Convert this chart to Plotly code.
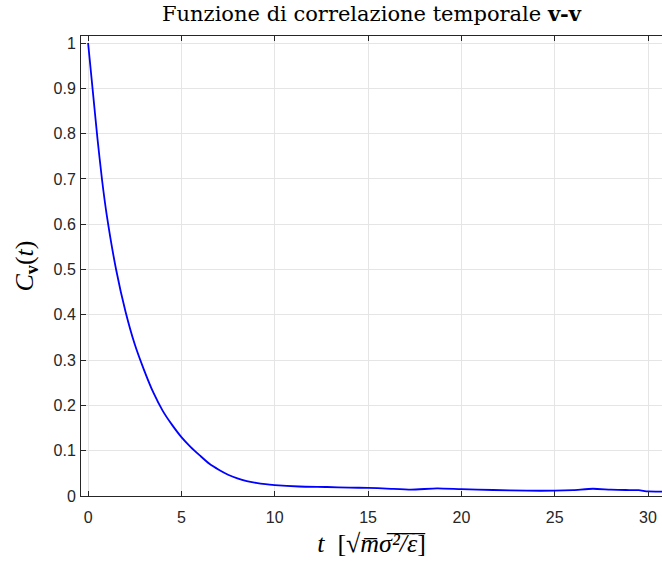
import plotly.graph_objects as go

# Time (reduced units) and velocity autocorrelation values
t_vals = [0.0, 0.25, 0.5, 0.75, 1.0, 1.5, 2.0, 2.5, 3.0, 3.5, 4.0, 4.5, 5.0, 5.5,
          6.0, 6.5, 7.0, 7.5, 8.0, 8.5, 9.0, 9.5, 10.0, 11.3, 12.8, 14.0, 15.0, 16.0,
          17.3, 18.7, 20.0, 21.7, 23.5, 25.0, 26.0, 27.05, 28.0, 28.8, 29.5, 30.0, 30.8]
c_vals = [1.0, 0.895, 0.79, 0.697, 0.62, 0.50, 0.408, 0.335, 0.278, 0.228, 0.188,
          0.157, 0.13, 0.108, 0.089, 0.071, 0.058, 0.047, 0.039, 0.033, 0.029, 0.026,
          0.024, 0.021, 0.0199, 0.0185, 0.0180, 0.0165, 0.0140, 0.0168, 0.0150, 0.0132,
          0.0117, 0.0117, 0.0130, 0.0160, 0.0140, 0.0132, 0.0128, 0.0100, 0.0098]

x_ticks = [0, 5, 10, 15, 20, 25, 30]
y_ticks = [0, 0.1, 0.2, 0.3, 0.4, 0.5, 0.6, 0.7, 0.8, 0.9, 1]

title_text = "Funzione di correlazione temporale <b>v-v</b>"
x_title = "<i>t</i>  [√<i>m̅σ̅²̅/̅ε̅</i>]"
y_title = "<i>C</i><sub><b>v</b></sub>(<i>t</i>)"

axis_color = "#262626"
grid_color = "#e5e5e5"
tick_font = dict(family="Liberation Sans, Arial, sans-serif", size=16, color=axis_color)
serif = "DejaVu Serif, serif"
serif2 = "Liberation Serif, Times New Roman, serif"

fig = go.Figure()
fig.add_trace(go.Scatter(x=t_vals, y=c_vals, mode="lines",
                         line=dict(color="#0000ff", width=1.8, shape="spline", smoothing=0.6),
                         showlegend=False))

fig.update_layout(
    width=662, height=566,
    margin=dict(l=81, r=0, t=36, b=70),
    paper_bgcolor="white", plot_bgcolor="white",
    title=dict(text=title_text, x=0.5, xref="paper", xanchor="center",
               y=1 - 14 / 566, yanchor="middle",
               font=dict(family=serif, size=21, color="black")),
)
fig.update_xaxes(
    range=[-0.38, 30.75], tickvals=x_ticks, ticks="inside", ticklen=5,
    tickcolor=axis_color, showline=True, linecolor=axis_color, linewidth=1,
    mirror="ticks", showgrid=True, gridcolor=grid_color, zeroline=False,
    tickfont=tick_font, ticklabelstandoff=7,
    title=dict(text=x_title, font=dict(family=serif2, size=26, color="black"), standoff=8),
)
fig.update_yaxes(
    range=[0, 1.0155], tickvals=y_ticks, ticks="inside", ticklen=5,
    tickcolor=axis_color, showline=True, linecolor=axis_color, linewidth=1,
    mirror=False, showgrid=True, gridcolor=grid_color, zeroline=False,
    tickfont=tick_font, ticklabelstandoff=1,
    title=dict(text=y_title, font=dict(family=serif2, size=26, color="black"), standoff=12),
)

fig.write_html("out.html")
